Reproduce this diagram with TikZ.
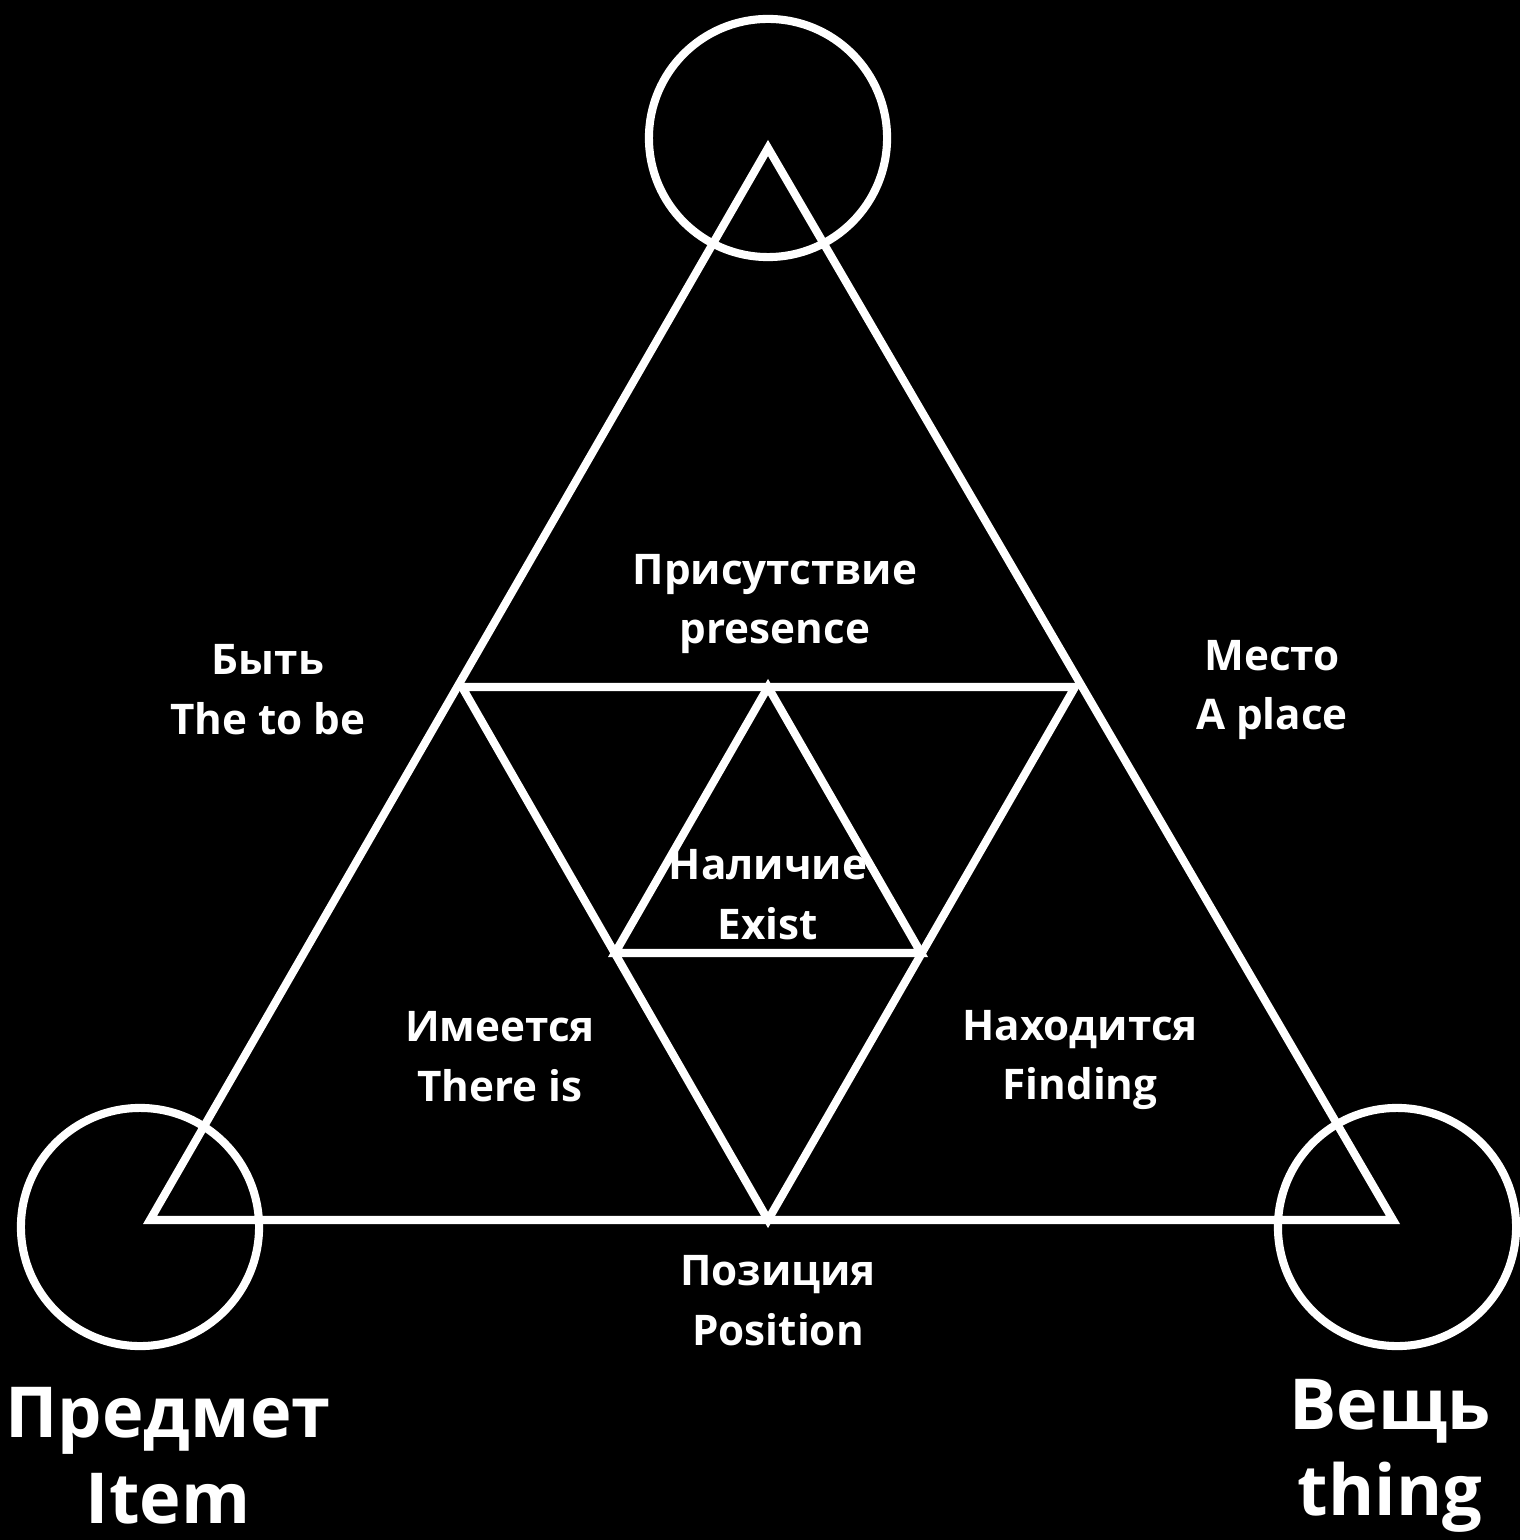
\documentclass[tikz,border=0pt]{standalone}
\usepackage{fontspec}
\setmainfont{Open Sans}
\usetikzlibrary{positioning}

\begin{document}
\begin{tikzpicture}[x=0.01cm, y=-0.01cm,
  lbl/.style={text=white, font=\bfseries\fontsize{12}{17}\selectfont, align=center, inner sep=0pt},
  biglbl/.style={text=white, font=\bfseries\fontsize{20}{24.5}\selectfont, align=center, inner sep=0pt},
  ring/.style={circle, draw=white, line width=2.3pt, minimum size=2.38cm, inner sep=0pt},
  edge/.style={draw=white, line width=2.3pt, line join=miter}
]

\fill[black] (0,0) rectangle (1520,1540);

% outer triangle
\coordinate (top) at (768,148);
\coordinate (left) at (150,1220);
\coordinate (right) at (1393,1220);
\coordinate (ml) at (462,687);
\coordinate (mr) at (1075,687);
\coordinate (mb) at (768,1220);
\coordinate (ct) at (768,687);
\coordinate (cl) at (615,953);
\coordinate (cr) at (921,953);

\draw[edge] (top) -- (right) -- (left) -- cycle;
\draw[edge] (ml) -- (mr) -- (mb) -- cycle;
\draw[edge] (ct) -- (cr) -- (cl) -- cycle;

\node[ring] (ctop) at (768,138) {};
\node[ring] (cleft) at (140,1227) {};
\node[ring] (cright) at (1397,1227) {};

\node[lbl] (presence) at (775,604) {Присутствие\\presence};
\node[lbl] (tobe) at (268,690) {Быть\\The to be};
\node[lbl] (place) at (1272,690) {Место\\A place};
\node[lbl] (exist) at (768,895) {Наличие\\Exist};
\node[lbl] (thereis) at (500,1057) {Имеется\\There is};
\node[lbl] (finding) at (1080,1060) {Находится\\Finding};
\node[lbl] (position) at (778,1301) {Позиция\\Position};

\node[biglbl] (item) at (168,1456) {Предмет\\Item};
\node[biglbl] (thing) at (1390,1456) {Вещь\\thing};

\end{tikzpicture}
\end{document}
